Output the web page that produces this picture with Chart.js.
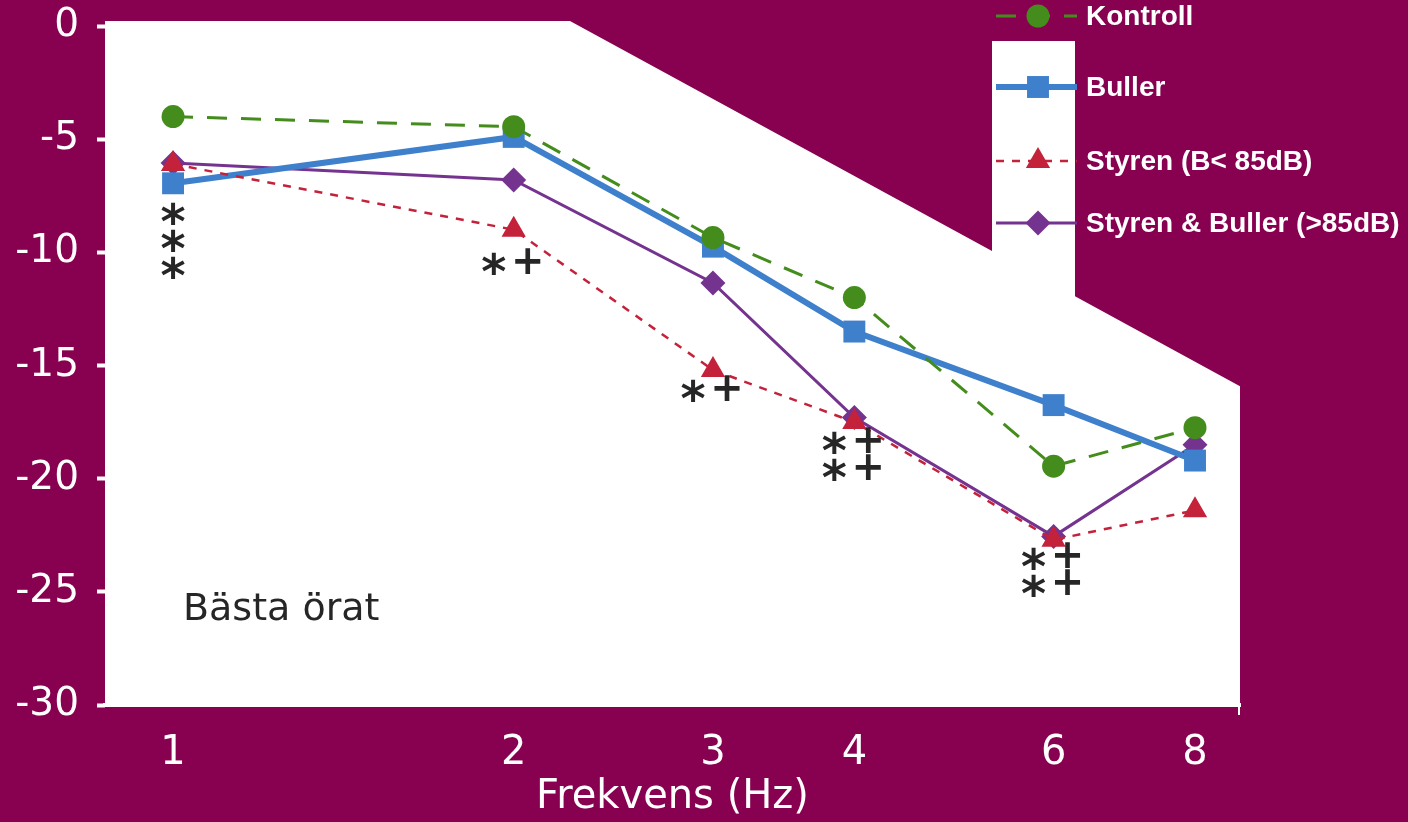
<!DOCTYPE html>
<html>
<head>
<meta charset="utf-8">
<title>Frekvens (Hz) – Bästa örat</title>
<script src="https://cdn.jsdelivr.net/npm/chart.js@4.4.1/dist/chart.umd.min.js"></script>
<style>
  html, body { margin: 0; padding: 0; background: #880050; }
  canvas { display: block; }
</style>
</head>
<body>
<canvas id="chart" width="1408" height="822"></canvas>
<script>
// ---- data ----
const frequencies = [1, 2, 3, 4, 6, 8];
const kontroll = [-4.0, -4.45, -9.35, -12.0, -19.45, -17.75];
const buller = [-6.95, -4.9, -9.75, -13.5, -16.75, -19.2];
const styren = [-6.1, -9.0, -15.2, -17.5, -22.7, -21.4];
const styrenBuller = [-6.05, -6.8, -11.35, -17.3, -22.55, -18.5];
const seriesNames = ['Kontroll', 'Buller', 'Styren (B< 85dB)', 'Styren & Buller (>85dB)'];
const xTicks = [1, 2, 3, 4, 6, 8];
const yTicks = [0, -5, -10, -15, -20, -25, -30];

// significance marks under the points
const markFreq = [1, 2, 3, 4, 6];
const markValue = [-8.2, -10.4, -16.0, -18.3, -23.4];
const markLines = [['*', '*', '*'], ['* +'], ['* +'], ['* +', '* +'], ['* +', '* +']];

const panelLabel = 'Bästa örat';
const xTitle = 'Frekvens (Hz)';

const MAROON = '#880050';
const INK = '#262626';

Chart.defaults.font.family = '"DejaVu Sans", sans-serif';

const points = (vals) => frequencies.map((f, i) => ({ x: f, y: vals[i] }));

// white plot panel with the cut-off corner and the legend strip
const backdrop = {
    id: 'backdrop',
    beforeDraw(chart) {
        const { ctx, chartArea: a } = chart;
        const top = a.top - 5;
        const bottom = a.bottom - 2;
        const slope = 0.545;
        const diagX = a.left + 465;
        const boxL = 992, boxR = 1075, boxTop = top + 20;

        ctx.save();
        ctx.fillStyle = MAROON;
        ctx.fillRect(0, 0, chart.width, chart.height);
        ctx.fillStyle = '#ffffff';
        ctx.beginPath();
        ctx.moveTo(a.left, top);
        ctx.lineTo(diagX, top);
        ctx.lineTo(boxL, top + (boxL - diagX) * slope);
        ctx.lineTo(boxL, boxTop);
        ctx.lineTo(boxR, boxTop);
        ctx.lineTo(boxR, top + (boxR - diagX) * slope);
        ctx.lineTo(a.right, top + (a.right - diagX) * slope);
        ctx.lineTo(a.right, bottom);
        ctx.lineTo(a.left, bottom);
        ctx.closePath();
        ctx.fill();
        ctx.restore();
    }
};

// legend, star/plus marks and panel label
const overlay = {
    id: 'overlay',
    afterDraw(chart) {
        const { ctx, chartArea: a } = chart;
        const xs = chart.scales.x, ys = chart.scales.y;

        // little tick at right end of x axis
        ctx.save();
        ctx.strokeStyle = '#ffffff';
        ctx.lineWidth = 2;
        ctx.beginPath();
        ctx.moveTo(a.right - 1, a.bottom);
        ctx.lineTo(a.right - 1, a.bottom + 10);
        ctx.stroke();
        ctx.restore();

        // legend
        const legendRows = [16, 87, 161, 223];
        chart.data.datasets.forEach((ds, i) => {
            const y = legendRows[i];
            ctx.save();
            ctx.strokeStyle = ds.borderColor;
            ctx.lineWidth = ds.borderWidth;
            ctx.setLineDash(ds.borderDash || []);
            ctx.beginPath();
            ctx.moveTo(996, y);
            ctx.lineTo(1077, y);
            ctx.stroke();
            ctx.setLineDash([]);
            ctx.fillStyle = ds.backgroundColor;
            ctx.strokeStyle = ds.backgroundColor;
            Chart.helpers.drawPoint(ctx, {
                pointStyle: ds.pointStyle, radius: ds.pointRadius, rotation: 0, borderWidth: 0
            }, 1038, y);
            ctx.fillStyle = '#ffffff';
            ctx.font = 'bold 28px "Liberation Sans", Arial, sans-serif';
            ctx.textAlign = 'left';
            ctx.textBaseline = 'middle';
            ctx.fillText(ds.label, 1086, y + 1);
            ctx.restore();
        });

        // significance marks
        ctx.save();
        ctx.fillStyle = INK;
        ctx.textAlign = 'center';
        ctx.textBaseline = 'alphabetic';
        const drawSym = (s, x, cy) => {
            if (s === '*') {
                ctx.font = 'bold 48px "DejaVu Sans"';
                ctx.fillText(s, x, cy + 0.56 * 48);
            } else {
                ctx.font = 'bold 40px "DejaVu Sans"';
                ctx.fillText(s, x, cy + 0.32 * 40);
            }
        };
        markFreq.forEach((f, i) => {
            const px = xs.getPixelForValue(f);
            const py = ys.getPixelForValue(markValue[i]);
            markLines[i].forEach((line, j) => {
                const cy = py + j * 27;
                const parts = line.split(' ');
                if (parts.length === 1) {
                    drawSym(parts[0], px, cy);
                } else {
                    drawSym(parts[0], px - 20, cy);
                    drawSym(parts[1], px + 14, cy);
                }
            });
        });

        // panel label
        ctx.font = '38px "DejaVu Sans"';
        ctx.textAlign = 'left';
        ctx.fillText(panelLabel, a.left + 78, a.bottom - 85);
        ctx.restore();
    }
};

new Chart(document.getElementById('chart'), {
    type: 'line',
    data: {
        datasets: [
            {
                label: seriesNames[0],
                data: points(kontroll),
                borderColor: '#448C1C',
                backgroundColor: '#448C1C',
                borderWidth: 3,
                borderDash: [20, 14],
                pointStyle: 'circle',
                pointRadius: 11.5,
                pointBorderWidth: 0,
                order: 0
            },
            {
                label: seriesNames[1],
                data: points(buller),
                borderColor: '#3E80CC',
                backgroundColor: '#3E80CC',
                borderWidth: 6,
                pointStyle: 'rect',
                pointRadius: 15.5,
                pointBorderWidth: 0,
                order: 2
            },
            {
                label: seriesNames[2],
                data: points(styren),
                borderColor: '#C4213A',
                backgroundColor: '#C4213A',
                borderWidth: 2.5,
                borderDash: [8, 8],
                pointStyle: 'triangle',
                pointRadius: 14,
                pointBorderWidth: 0,
                order: 1
            },
            {
                label: seriesNames[3],
                data: points(styrenBuller),
                borderColor: '#753390',
                backgroundColor: '#753390',
                borderWidth: 3,
                pointStyle: 'rectRot',
                pointRadius: 12.5,
                pointBorderWidth: 0,
                order: 3
            }
        ]
    },
    options: {
        responsive: false,
        animation: false,
        events: [],
        layout: { padding: { top: 26, right: 168, bottom: 0, left: 0 } },
        plugins: {
            legend: { display: false },
            tooltip: { enabled: false }
        },
        scales: {
            x: {
                type: 'logarithmic',
                min: 0.8707,
                max: 8.767,
                afterBuildTicks: (s) => { s.ticks = xTicks.map(v => ({ value: v })); },
                afterFit: (s) => { s.height = 117; s.paddingLeft = 0; s.paddingRight = 0; },
                ticks: {
                    color: '#ffffff',
                    font: { size: 40 },
                    padding: 17,
                    autoSkip: false,
                    maxRotation: 0,
                    callback: (v) => String(v)
                },
                grid: { display: false },
                border: { display: true, color: '#ffffff', width: 4 },
                title: {
                    display: true,
                    text: xTitle,
                    color: '#ffffff',
                    font: { size: 40 },
                    padding: { top: 0, bottom: 0 }
                }
            },
            y: {
                min: -30,
                max: 0,
                afterBuildTicks: (s) => { s.ticks = yTicks.map(v => ({ value: v })); },
                afterFit: (s) => { s.width = 105; s.paddingTop = 0; s.paddingBottom = 0; },
                ticks: {
                    color: '#ffffff',
                    font: { size: 39 },
                    padding: 18
                },
                grid: {
                    drawOnChartArea: false,
                    drawTicks: true,
                    tickLength: 8,
                    tickColor: '#ffffff',
                    tickWidth: 4
                },
                border: { display: false }
            }
        }
    },
    plugins: [backdrop, overlay]
});
</script>
</body>
</html>
